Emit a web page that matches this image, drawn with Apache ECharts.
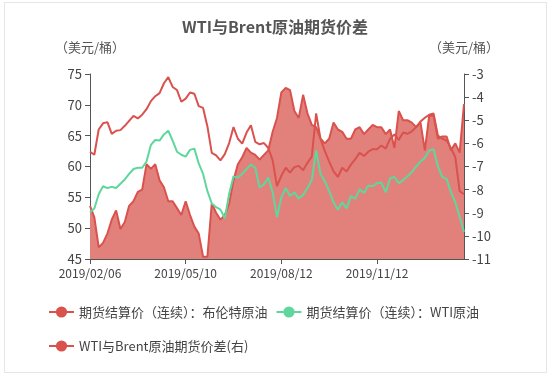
<!DOCTYPE html>
<html lang="zh-CN" style="height: 100%">
<head>
  <meta charset="utf-8">
  <style>
    html,body {
      margin: 0;
      padding: 0;
      width: 100%;
      height: 100%;
      overflow: hidden;
      background: #fff;
    }
    #frame {
      position: absolute;
      left: 4px;
      top: 2px;
      width: 543px;
      height: 371px;
      border: 1px solid #e6e6e6;
      box-sizing: border-box;
    }
    #container {
      position: absolute;
      left: 0;
      top: 0;
      width: 550px;
      height: 378px;
    }
  </style>
  <script type="text/javascript" src="https://cdn.jsdelivr.net/npm/echarts@6/dist/echarts.min.js"></script>
</head>
<body>
  <div id="frame"></div>
  <div id="container"></div>

  <script type="text/javascript">
    // 日期（约每3个交易日一个点）
    var dates = [
      '2019/02/06','2019/02/11','2019/02/14','2019/02/19','2019/02/22','2019/02/27','2019/03/04','2019/03/07',
      '2019/03/12','2019/03/15','2019/03/20','2019/03/25','2019/03/28','2019/04/02','2019/04/05','2019/04/10',
      '2019/04/15','2019/04/18','2019/04/24','2019/04/29','2019/05/02','2019/05/07','2019/05/10','2019/05/15',
      '2019/05/20','2019/05/23','2019/05/29','2019/06/03','2019/06/06','2019/06/11','2019/06/14','2019/06/19',
      '2019/06/24','2019/06/27','2019/07/02','2019/07/08','2019/07/11','2019/07/16','2019/07/19','2019/07/24',
      '2019/07/29','2019/07/31','2019/08/05','2019/08/08','2019/08/12','2019/08/15','2019/08/20','2019/08/23',
      '2019/08/28','2019/09/03','2019/09/06','2019/09/11','2019/09/16','2019/09/19','2019/09/24','2019/09/27',
      '2019/10/02','2019/10/07','2019/10/10','2019/10/15','2019/10/18','2019/10/23','2019/10/28','2019/10/31',
      '2019/11/05','2019/11/08','2019/11/12','2019/11/15','2019/11/20','2019/11/25','2019/11/29','2019/12/04',
      '2019/12/09','2019/12/12','2019/12/17','2019/12/20','2019/12/26','2019/12/31','2020/01/06','2020/01/09',
      '2020/01/14','2020/01/17','2020/01/23','2020/01/28','2020/01/31','2020/02/05','2020/02/10'
    ];

    // 期货结算价（连续）：布伦特原油
    var brent = [
      62.4, 61.9, 66.0, 67.0, 67.2, 65.3, 65.8, 65.9, 66.6, 67.4, 68.2, 67.8, 68.4, 69.3, 70.6, 71.4,
      71.9, 73.5, 74.5, 72.9, 72.4, 70.5, 71.0, 72.0, 71.8, 69.8, 69.5, 66.5, 62.2, 61.8, 61.0, 62.0,
      63.8, 66.4, 64.5, 63.7, 65.5, 66.7, 64.0, 63.6, 63.8, 63.0, 61.0, 56.8, 58.5, 59.8, 59.0, 59.9,
      60.1, 59.4, 60.6, 61.6, 68.6, 64.5, 62.5, 60.8, 59.2, 58.3, 59.8, 59.2, 60.3, 61.2, 62.2, 61.7,
      62.4, 62.8, 62.8, 63.4, 62.9, 64.5, 65.2, 64.3, 65.5, 65.3, 65.7, 66.4, 67.3, 67.9, 68.4, 68.6,
      65.0, 64.5, 64.2, 63.0, 61.5, 56.0, 55.5
    ];

    // 期货结算价（连续）：WTI原油
    var wti = [
      52.6, 53.2, 55.5, 56.8, 56.5, 56.7, 56.5, 57.2, 57.9, 58.8, 59.6, 59.8, 59.8, 60.8, 63.5, 64.3,
      64.2, 65.2, 65.8, 64.2, 62.4, 61.9, 61.6, 62.7, 62.9, 60.5, 58.8, 56.0, 54.0, 53.4, 53.0, 51.6,
      55.6, 58.4, 58.2, 58.8, 59.6, 60.3, 59.8, 56.6, 57.1, 58.2, 55.8, 51.8, 55.0, 56.5, 55.2, 55.8,
      54.8, 55.4, 56.5, 57.8, 62.6, 58.8, 57.6, 56.0, 54.2, 53.0, 54.2, 53.2, 55.2, 54.8, 56.3, 55.7,
      56.9, 56.8, 57.3, 57.4, 55.8, 58.1, 58.3, 57.3, 57.8, 58.4, 59.1, 60.0, 60.8, 61.4, 62.6, 62.8,
      60.0, 58.3, 58.0, 55.8, 54.2, 51.8, 49.4
    ];

    // WTI与Brent原油期货价差(右)
    var spread = [
      -8.7, -9.2, -10.5, -10.3, -9.9, -9.3, -8.9, -9.7, -9.4, -8.7, -8.5, -8.1, -8.0, -6.9, -7.1, -6.9,
      -7.6, -7.9, -8.5, -8.5, -8.8, -9.1, -8.5, -9.1, -9.6, -9.9, -10.9, -10.9, -8.6, -9.0, -9.3, -9.1,
      -8.6, -7.6, -6.9, -6.6, -6.2, -6.4, -6.5, -6.7, -6.5, -6.3, -5.5, -4.9, -3.8, -3.6, -3.7, -4.6,
      -4.9, -3.9, -4.7, -5.2, -5.3, -5.8, -6.0, -5.8, -5.1, -5.4, -5.5, -5.8, -5.8, -5.4, -5.3, -5.6,
      -5.4, -5.2, -5.3, -5.3, -5.6, -5.4, -6.2, -4.6, -5.0, -5.0, -5.1, -5.3, -5.1, -6.3, -4.8, -4.8,
      -5.8, -5.7, -5.7, -6.3, -6.0, -6.4, -4.3
    ];

    var leftTicks = { min: 45, max: 75, step: 5 };
    var rightTicks = { min: -11, max: -3, step: 1 };

    var seriesNames = ['期货结算价（连续）：布伦特原油', '期货结算价（连续）：WTI原油', 'WTI与Brent原油期货价差(右)'];

    var dom = document.getElementById('container');
    var myChart = echarts.init(dom, null, { renderer: 'canvas' });

    var fontFamily = '"Noto Sans CJK SC", "Noto Sans", sans-serif';
    var axisColor = '#555';

    var option = {
      animation: false,
      textStyle: { fontFamily: fontFamily },
      title: {
        text: 'WTI与Brent原油期货价差',
        left: 'center',
        top: 14,
        textStyle: { fontSize: 16, fontWeight: 'bold', color: '#555', fontFamily: fontFamily }
      },
      legend: {
        data: seriesNames,
        left: 43,
        top: 294,
        width: 470,
        itemGap: 8,
        itemWidth: 25,
        itemHeight: 14,
        textStyle: { fontSize: 13, lineHeight: 26, color: '#444', fontFamily: fontFamily }
      },
      grid: { left: 90, right: 86, top: 74, bottom: 119 },
      xAxis: {
        type: 'category',
        data: dates,
        boundaryGap: false,
        axisLine: { lineStyle: { color: axisColor } },
        axisTick: { interval: 21, length: 5, lineStyle: { color: axisColor } },
        axisLabel: { interval: 21, color: '#444', fontSize: 12, margin: 8 }
      },
      yAxis: [{
        type: 'value',
        name: '（美元/桶）',
        nameGap: 20,
        nameTextStyle: { color: '#555', fontSize: 13 },
        min: leftTicks.min,
        max: leftTicks.max,
        interval: leftTicks.step,
        splitLine: { show: false },
        axisLine: { show: true, lineStyle: { color: axisColor } },
        axisTick: { show: true, length: 5, lineStyle: { color: axisColor } },
        axisLabel: { color: '#444', fontSize: 13, margin: 8 }
      }, {
        type: 'value',
        name: '（美元/桶）',
        nameGap: 20,
        nameTextStyle: { color: '#555', fontSize: 13 },
        position: 'right',
        min: rightTicks.min,
        max: rightTicks.max,
        interval: rightTicks.step,
        splitLine: { show: false },
        axisLine: { show: true, lineStyle: { color: axisColor } },
        axisTick: { show: true, length: 5, lineStyle: { color: axisColor } },
        axisLabel: { color: '#444', fontSize: 13, margin: 8 }
      }],
      series: [{
        name: seriesNames[2],
        type: 'line',
        yAxisIndex: 1,
        data: spread,
        symbol: 'circle',
        showSymbol: false,
        itemStyle: { color: '#d9524d' },
        lineStyle: { color: '#d9524d', width: 2 },
        areaStyle: { color: '#e2817b', opacity: 1, origin: 'start' }
      }, {
        name: seriesNames[0],
        type: 'line',
        yAxisIndex: 0,
        data: brent,
        symbol: 'circle',
        showSymbol: false,
        itemStyle: { color: '#d9524d' },
        lineStyle: { color: '#d9524d', width: 2 }
      }, {
        name: seriesNames[1],
        type: 'line',
        yAxisIndex: 0,
        data: wti,
        symbol: 'circle',
        showSymbol: false,
        itemStyle: { color: '#5fd79c' },
        lineStyle: { color: '#5fd79c', width: 2 }
      }]
    };

    myChart.setOption(option);
    window.addEventListener('resize', myChart.resize);
  </script>
</body>
</html>
